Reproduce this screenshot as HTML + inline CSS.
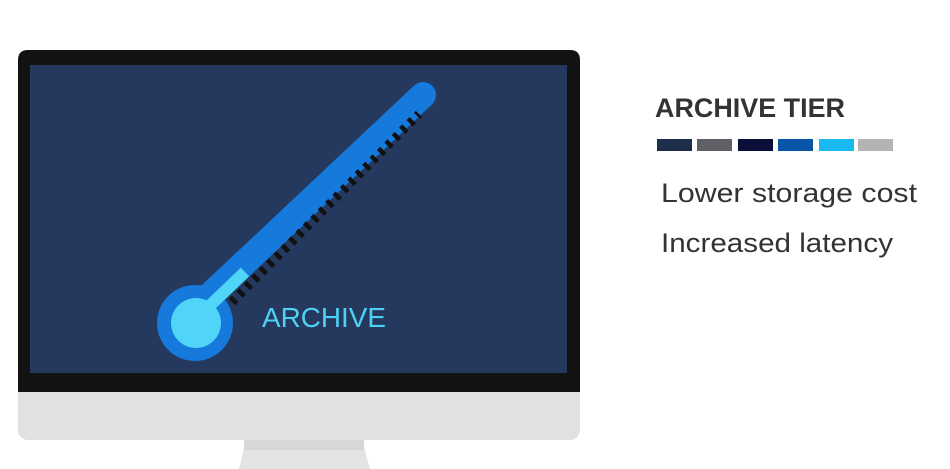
<!DOCTYPE html>
<html><head><meta charset="utf-8"><style>html,body{margin:0;padding:0;background:#fff;width:950px;height:469px;overflow:hidden}</style></head>
<body>
<svg width="950" height="469" viewBox="0 0 950 469" xmlns="http://www.w3.org/2000/svg" font-family="Liberation Sans, sans-serif">
<rect width="950" height="469" fill="#fff"/>
<polygon points="246,440 362,440 370,469 239,469" fill="#e2e3e3"/>
<rect x="244" y="440" width="120" height="10" fill="#d6d7d7"/>
<rect x="18" y="370" width="562" height="70" rx="10" fill="#e0e1e1"/>
<path d="M18,392 V60 Q18,50 28,50 H570 Q580,50 580,60 V392 Z" fill="#121212"/>
<rect x="30" y="65" width="537" height="308" fill="#24395d"/>
<line x1="205" y1="300" x2="423" y2="95" stroke="#1679dc" stroke-width="26" stroke-linecap="round"/>
<circle cx="195" cy="323" r="38" fill="#1679dc"/>
<line x1="200" y1="315" x2="245" y2="272" stroke="#50d4f8" stroke-width="12" stroke-linecap="butt"/>
<circle cx="196" cy="323" r="25" fill="#50d4f8"/>
<line x1="232" y1="302" x2="419" y2="114" stroke="#111" stroke-width="9" stroke-dasharray="4.5 6"/>
<text x="262" y="327" font-size="28" fill="#4fd0f5" textLength="124" lengthAdjust="spacingAndGlyphs">ARCHIVE</text>
<text x="655" y="117" font-size="27" font-weight="bold" fill="#333" textLength="190" lengthAdjust="spacingAndGlyphs">ARCHIVE TIER</text>
<rect x="657" y="139" width="35" height="12" fill="#1f2d4d"/>
<rect x="697" y="139" width="35" height="12" fill="#5f6166"/>
<rect x="738" y="139" width="35" height="12" fill="#0a0f3a"/>
<rect x="778" y="139" width="35" height="12" fill="#0a56a6"/>
<rect x="819" y="139" width="35" height="12" fill="#1ab8f0"/>
<rect x="858" y="139" width="35" height="12" fill="#b3b3b3"/>
<text x="661" y="202" font-size="27" fill="#333" textLength="256" lengthAdjust="spacingAndGlyphs">Lower storage cost</text>
<text x="661" y="252" font-size="27" fill="#333" textLength="232" lengthAdjust="spacingAndGlyphs">Increased latency</text>
</svg>
</body></html>
